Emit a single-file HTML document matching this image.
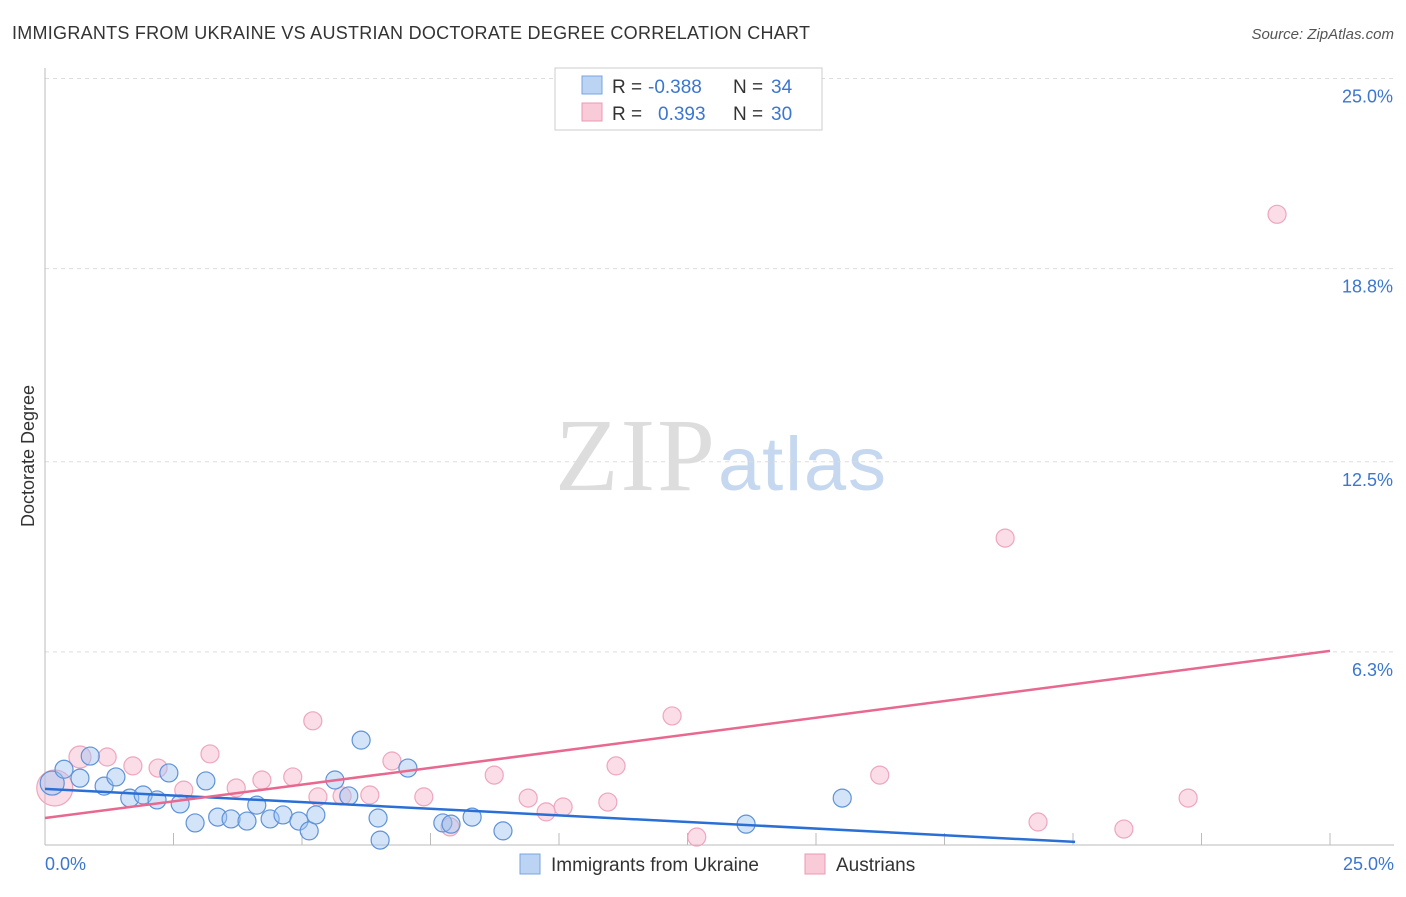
<!DOCTYPE html>
<html><head><meta charset="utf-8"><style>
body{margin:0;background:#fff;font-family:"Liberation Sans",sans-serif;}
</style></head><body>
<svg width="1406" height="892" xmlns="http://www.w3.org/2000/svg" font-family="Liberation Sans, sans-serif">
<text x="12" y="39" font-size="18" fill="#333" textLength="798">IMMIGRANTS FROM UKRAINE VS AUSTRIAN DOCTORATE DEGREE CORRELATION CHART</text>
<text x="1394" y="39" font-size="15" fill="#555" text-anchor="end" font-style="italic">Source: ZipAtlas.com</text>
<text x="555" y="490" font-size="104" fill="#ddd" textLength="160" font-family="Liberation Serif, serif">ZIP</text>
<text x="718" y="490" font-size="76" fill="#c5d8ef" textLength="168">atlas</text>
<g id="grid"></g>
<g id="pts"></g>
<g id="lines"></g>
<text transform="translate(34,456) rotate(-90)" font-size="18" fill="#333" text-anchor="middle">Doctorate Degree</text>
<text x="45" y="870" font-size="18" fill="#3b76d0">0.0%</text>
<text x="1394" y="870" font-size="18" fill="#3b76d0" text-anchor="end">25.0%</text>
<g>
<rect x="555" y="68" width="267" height="62" fill="#fff" stroke="#ccc"/>
<rect x="582" y="76" width="20" height="18" fill="#bcd4f4" stroke="#7aa5e0"/>
<rect x="582" y="103" width="20" height="18" fill="#f9cbd8" stroke="#ec9ab2"/>
<text x="612" y="93" font-size="19" fill="#333">R =</text>
<text x="648" y="93" font-size="19" fill="#3b76d0">-0.388</text>
<text x="733" y="93" font-size="19" fill="#333">N =</text>
<text x="771" y="93" font-size="19" fill="#3b76d0">34</text>
<text x="612" y="120" font-size="19" fill="#333">R =</text>
<text x="658" y="120" font-size="19" fill="#3b76d0">0.393</text>
<text x="733" y="120" font-size="19" fill="#333">N =</text>
<text x="771" y="120" font-size="19" fill="#3b76d0">30</text>
</g>
<g>
<rect x="520" y="854" width="20" height="20" fill="#bcd4f4" stroke="#7aa5e0"/>
<text x="551" y="871" font-size="19" fill="#333">Immigrants from Ukraine</text>
<rect x="805" y="854" width="20" height="20" fill="#f9cbd8" stroke="#ec9ab2"/>
<text x="836" y="871" font-size="19" fill="#333">Austrians</text>
</g>
</svg>
<script>
const yTicks=[6.3,12.5,18.8,25.0];
const blueX=[0.14,0.37,0.68,0.88,1.15,1.38,1.65,1.91,2.18,2.41,2.63,2.92,3.13,3.36,3.62,3.93,4.12,4.38,4.63,4.94,5.14,5.27,5.64,5.91,6.15,6.48,6.52,7.06,7.74,7.90,8.31,8.91,13.64,15.51];
const blueY=[2.02,2.47,2.18,2.90,1.92,2.22,1.53,1.63,1.47,2.35,1.34,0.72,2.09,0.91,0.85,0.78,1.30,0.85,0.98,0.78,0.46,0.98,2.12,1.60,3.42,0.88,0.16,2.51,0.72,0.68,0.91,0.46,0.68,1.53];
const pinkX=[0.19,0.68,1.21,1.71,2.20,2.70,3.21,3.72,4.22,4.82,5.21,5.31,5.78,6.32,6.75,7.37,7.88,8.74,9.40,9.75,10.08,10.95,11.11,12.20,12.68,16.24,18.68,19.32,20.99,22.24,23.97];
const pinkY=[1.86,2.87,2.87,2.58,2.51,1.79,2.97,1.86,2.12,2.22,4.05,1.57,1.60,1.63,2.74,1.57,0.59,2.28,1.53,1.08,1.24,1.40,2.58,4.21,0.26,2.28,10.01,0.75,0.52,1.53,20.57];
const pinkR=[18,11,9,9,9,9,9,9,9,9,9,9,9,9,9,9,9,9,9,9,9,9,9,9,9,9,9,9,9,9,9];
const blueTrend=[1.83,0.10]; const blueTrendEnd=20.04;
const pinkTrend=[0.88,6.33];
const X=v=>45+v*51.4, Y=v=>845-v*30.66;
const NS="http://www.w3.org/2000/svg";
function mk(t,a,p){const e=document.createElementNS(NS,t);for(const k in a)e.setAttribute(k,a[k]);p.appendChild(e);return e;}
const g=document.getElementById('grid'),pts=document.getElementById('pts'),ln=document.getElementById('lines');
yTicks.forEach(t=>{const l=mk('line',{x1:45,x2:1394,y1:Y(t),y2:Y(t),stroke:'#ddd','stroke-dasharray':'4,4'},g);


const tx=mk('text',{x:1393,y:Y(t)+24,'font-size':18,fill:'#3b76d0','text-anchor':'end'},g);tx.textContent=t.toFixed(1)+'%';

});
const ax=mk('line',{x1:45,x2:45,y1:68,y2:845,stroke:'#bbb'},g);


const bx=mk('line',{x1:45,x2:1394,y1:845,y2:845,stroke:'#bbb'},g);


for(let i=1;i<=10;i++){const tk=mk('line',{x1:X(i*2.5),x2:X(i*2.5),y1:833,y2:845,stroke:'#bbb'},g);

}
pinkX.forEach((x,i)=>{const c=mk('circle',{cx:X(x),cy:Y(pinkY[i]),r:pinkR[i],fill:'rgba(244,170,195,0.4)',stroke:'#eea6bd','stroke-width':1.2},pts);

});
blueX.forEach((x,i)=>{const c=mk('circle',{cx:X(x),cy:Y(blueY[i]),r:i==0?12:9,fill:'rgba(160,195,240,0.45)',stroke:'#5e92d8','stroke-width':1.2},pts);

});
const bl=mk('line',{x1:X(0),y1:Y(blueTrend[0]),x2:X(blueTrendEnd),y2:Y(blueTrend[1]),stroke:'#2a6fd6','stroke-width':2.5},ln);


const pl=mk('line',{x1:X(0),y1:Y(pinkTrend[0]),x2:X(25),y2:Y(pinkTrend[1]),stroke:'#e8688f','stroke-width':2.5},ln);


</script>
</body></html>
